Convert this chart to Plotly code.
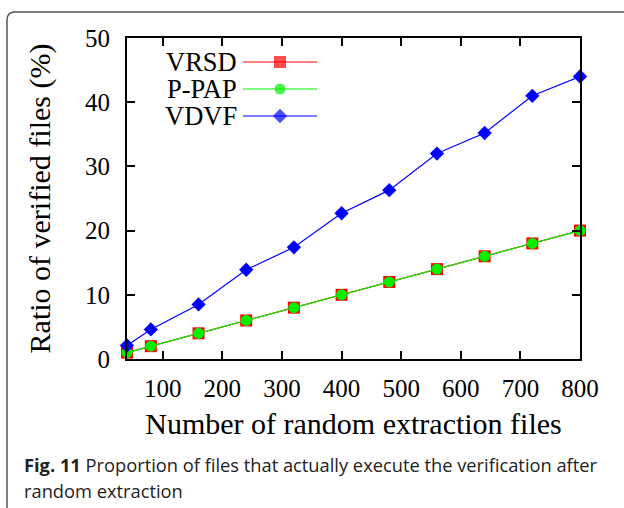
import plotly.graph_objects as go

# ---------------- data ----------------
files = [40, 80, 160, 240, 320, 400, 480, 560, 640, 720, 800]
vrsd = [1, 2, 4, 6, 8, 10, 12, 14, 16, 18, 20]
ppap = [1, 2, 4, 6, 8, 10, 12, 14, 16, 18, 20]
vdvf = [2.1, 4.6, 8.5, 13.9, 17.4, 22.7, 26.3, 32.0, 35.2, 41.0, 44.0]
series_names = ["VRSD", "P-PAP", "VDVF"]
x_ticks = [100, 200, 300, 400, 500, 600, 700, 800]
y_ticks = [0, 10, 20, 30, 40, 50]

# ---------------- layout geometry (pixels) ----------------
W, H = 624, 508
L, R, T, B = 127, 580, 38, 359


def pxx(p):
    return (p - L) / (R - L)


def pxy(p):
    return (B - p) / (B - T)


SERIF = "Liberation Serif, Times New Roman, serif"
styles = {
    "VRSD": dict(color="#ff0000", symbol="square", size=12),
    "P-PAP": dict(color="#00ee00", symbol="circle", size=11),
    "VDVF": dict(color="#0000ff", symbol="diamond", size=11),
}

fig = go.Figure()
for name, ys in zip(series_names, [vrsd, ppap, vdvf]):
    st = styles[name]
    fig.add_trace(go.Scatter(
        x=files, y=ys, name=name, mode="lines+markers",
        line=dict(color=st["color"], width=1.2),
        marker=dict(color=st["color"], symbol=st["symbol"], size=st["size"],
                    line=dict(width=0)),
        cliponaxis=False, showlegend=False,
    ))

# custom gnuplot-style legend (text on the left, sample on the right)
leg_rows = [62, 89, 116]
for name, ry in zip(series_names, leg_rows):
    st = styles[name]
    fig.add_trace(go.Scatter(
        x=[pxx(243), pxx(280), pxx(317)], y=[pxy(ry)] * 3,
        mode="lines+markers", xaxis="x2", yaxis="y2",
        line=dict(color=st["color"], width=1.2),
        marker=dict(color=st["color"], symbol=st["symbol"],
                    size=[0, st["size"], 0], line=dict(width=0)),
        showlegend=False, hoverinfo="skip", cliponaxis=False,
    ))
    fig.add_annotation(
        x=pxx(238), y=pxy(ry), xref="paper", yref="paper",
        text=name, showarrow=False, xanchor="right", yanchor="middle",
        borderpad=0,
        font=dict(family=SERIF, size=26.5, color="black"),
    )

axis_common = dict(
    showgrid=False, zeroline=False, showline=True, linecolor="black",
    linewidth=2, mirror="ticks", ticks="inside", ticklen=8, tickwidth=1.5,
    tickcolor="black", tickfont=dict(family=SERIF, size=25, color="black"),
    automargin=False,
)

fig.update_layout(
    width=W, height=H,
    margin=dict(l=L, r=W - R, t=T, b=H - B, pad=0),
    paper_bgcolor="white", plot_bgcolor="white",
    xaxis=dict(range=[40, 800], tickvals=x_ticks, ticklabelstandoff=6,
               title=dict(text="Number of random extraction files",
                          font=dict(family=SERIF, size=30, color="black"),
                          standoff=12),
               **axis_common),
    yaxis=dict(range=[0, 50], tickvals=y_ticks, ticklabelstandoff=10,
               title=dict(text="Ratio of verified files (%)",
                          font=dict(family=SERIF, size=30, color="black"),
                          standoff=26),
               **axis_common),
    xaxis2=dict(range=[0, 1], overlaying="x", visible=False),
    yaxis2=dict(range=[0, 1], overlaying="y", visible=False),
)

# rounded figure frame
x0, y0 = pxx(7), pxy(12)
x1, y1 = pxx(640), pxy(530)
rx, ry_ = 8 / (R - L), 8 / (B - T)
frame_path = (f"M {x0},{y1} L {x0},{y0 - ry_} "
              f"Q {x0},{y0} {x0 + rx},{y0} L {x1},{y0}")
fig.add_shape(type="path", path=frame_path, xref="paper", yref="paper",
              line=dict(color="#555555", width=1.5), layer="above")

# caption
CAP = "Open Sans, Lato, sans-serif"
fig.add_annotation(
    x=pxx(22), y=pxy(464), xref="paper", yref="paper", showarrow=False,
    xanchor="left", yanchor="middle", align="left",
    text="<b>Fig. 11</b> Proportion of files that actually execute the verification after",
    font=dict(family=CAP, size=18.3, color="#222222"),
)
fig.add_annotation(
    x=pxx(22), y=pxy(490), xref="paper", yref="paper", showarrow=False,
    xanchor="left", yanchor="middle", align="left",
    text="random extraction",
    font=dict(family=CAP, size=18.3, color="#222222"),
)

fig.write_html("out.html", config={"displayModeBar": False},
               post_script="document.body.style.margin='0px';")
